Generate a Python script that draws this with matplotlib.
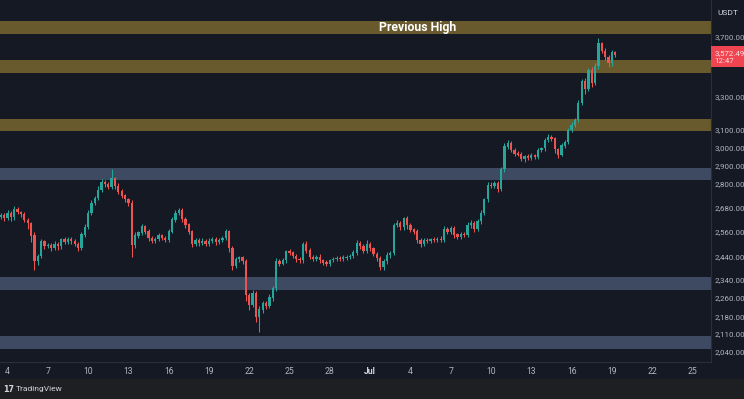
import numpy as np
import matplotlib.pyplot as plt
from matplotlib.patches import Rectangle
from matplotlib.ticker import NullLocator, NullFormatter

# ETH/USDT 6h candles, first candle opens Jun 3 12:00 (day 0 = Jun 4)
first_open = 2630
closes = [
    2640, 2625,                    # Jun 3 (2nd half)
    2650, 2630, 2672, 2655,        # Jun 4
    2645, 2615, 2600, 2540,        # Jun 5
    2420, 2445, 2512, 2490,        # Jun 6
    2495, 2480, 2500, 2490,        # Jun 7
    2521, 2510, 2525, 2515,        # Jun 8
    2500, 2483, 2545, 2580,        # Jun 9
    2652, 2700, 2728, 2770,        # Jun 10
    2812, 2800, 2786, 2830,        # Jun 11
    2790, 2760, 2740, 2720,        # Jun 12
    2700, 2497, 2540, 2555,        # Jun 13
    2584, 2560, 2530, 2515,        # Jun 14
    2525, 2540, 2530, 2521,        # Jun 15
    2560, 2618, 2650, 2667,        # Jun 16
    2620, 2594, 2560, 2500,        # Jun 17
    2520, 2505, 2515, 2500,        # Jun 18
    2515, 2525, 2510, 2520,        # Jun 19
    2530, 2560, 2480, 2400,        # Jun 20
    2430, 2437, 2420, 2270,        # Jun 21
    2230, 2280, 2180, 2210,        # Jun 22
    2235, 2225, 2260, 2300,        # Jun 23
    2420, 2410, 2425, 2465,        # Jun 24
    2460, 2445, 2430, 2425,        # Jun 25
    2500, 2470, 2440, 2430,        # Jun 26
    2440, 2425, 2415, 2410,        # Jun 27
    2425, 2430, 2435, 2432,        # Jun 28
    2438, 2440, 2445, 2460,        # Jun 29
    2505, 2490, 2470, 2500,        # Jun 30
    2480, 2455, 2435, 2395,        # Jul 1
    2420, 2450, 2458, 2590,        # Jul 2
    2600, 2580, 2625, 2590,        # Jul 3
    2570, 2560, 2520, 2500,        # Jul 4
    2520, 2515, 2522, 2518,        # Jul 5
    2525, 2520, 2570, 2560,        # Jul 6
    2575, 2545, 2535, 2548,        # Jul 7
    2545, 2590, 2600, 2575,        # Jul 8
    2610, 2650, 2720, 2795,        # Jul 9
    2790, 2805, 2775, 2880,        # Jul 10
    3005, 3025, 2985, 2965,        # Jul 11
    2960, 2935, 2950, 2940,        # Jul 12
    2955, 2945, 2985, 2995,        # Jul 13
    3040, 3060, 3050, 2990,        # Jul 14
    2960, 3010, 3030, 3100,        # Jul 15
    3130, 3160, 3260, 3400,        # Jul 16
    3350, 3470, 3390, 3500,        # Jul 17
    3650, 3600, 3560, 3520,        # Jul 18
    3590, 3572.49,                 # Jul 19
]
upper_wick = [
    10, 12,
    15, 10, 14, 8,   8, 12, 10, 6,   20, 10, 12, 10,  12, 10, 15, 8,
    10, 12, 8, 10,   8, 10, 12, 15,  12, 15, 10, 18,  15, 12, 10, 52,
    10, 15, 12, 10,  10, 15, 20, 10, 15, 10, 12, 8,   10, 12, 8, 10,
    12, 15, 18, 10,  10, 12, 8, 10,  10, 8, 12, 10,   12, 10, 8, 10,
    10, 15, 10, 12,  12, 10, 8, 10,  10, 15, 10, 15,  12, 10, 15, 10,
    15, 10, 12, 10,  12, 10, 8, 10,  12, 15, 10, 8,   10, 12, 8, 10,
    8, 10, 8, 10,    10, 8, 10, 12,  15, 10, 12, 20,
    10, 8, 10, 10,   10, 12, 8, 12,  15, 12, 8, 10,   10, 8, 12, 10,
    8, 10, 8, 10,    10, 12, 15, 10, 12, 10, 8, 10,   10, 15, 18, 10,
    12, 15, 10, 15,  15, 12, 10, 12, 20, 15, 12, 10,  15, 12, 10, 12,
    12, 10, 15, 10,  15, 18, 12, 10, 10, 15, 12, 15,  15, 12, 20, 15,
    20, 15, 25, 20,  36, 8, 20, 15,
    15, 10,
]
lower_wick = [
    8, 15,
    10, 20, 12, 10,  12, 10, 25, 30, 37, 15, 10, 12,  10, 12, 8, 15,
    12, 8, 10, 12,   10, 15, 8, 10,  8, 12, 10, 10,   10, 15, 12, 10,
    15, 12, 10, 12,  12, 55, 15, 10, 10, 12, 15, 10,  8, 10, 12, 10,
    10, 8, 12, 10,   12, 15, 10, 12, 10, 12, 8, 10,   8, 10, 12, 10,
    10, 12, 15, 17,  10, 12, 10, 25, 20, 10, 20, 63,  15, 12, 10, 12,
    12, 10, 8, 10,   10, 8, 12, 10,  10, 12, 10, 8,   8, 10, 12, 10,
    10, 8, 10, 8,    8, 10, 8, 10,   10, 12, 10, 10,
    12, 10, 15, 12,  15, 10, 12, 10, 10, 12, 10, 15,  12, 10, 15, 12,
    10, 8, 10, 8,    8, 10, 12, 10,  10, 15, 12, 10,  12, 10, 12, 15,
    10, 12, 10, 12,  12, 10, 15, 12, 15, 12, 10, 12,  10, 12, 15, 10,
    10, 12, 10, 12,  12, 10, 15, 20, 18, 10, 12, 10,  10, 12, 15, 12,
    30, 15, 25, 15,  20, 15, 20, 30,
    20, 15,
]

# support / resistance zones (low, high)
gold_zones = [(3718, 3808), (3451, 3536), (3094, 3165)]
blue_zones = [(2822, 2887), (2292, 2351), (2052, 2103)]

price_ticks = [3700, 3300, 3100, 3000, 2900, 2800, 2680, 2560, 2440,
               2340, 2260, 2180, 2110, 2040]
date_ticks = [0, 3, 6, 9, 12, 15, 18, 21, 24, 27, 30, 33, 36, 39, 42, 45, 48, 51]
date_labels = ["4", "7", "10", "13", "16", "19", "22", "25", "28", "Jul",
               "4", "7", "10", "13", "16", "19", "22", "25"]
last_time = "12:47"

BG = "#151924"
UP = "#26a69a"
DOWN = "#ef5350"
TXT = "#b2b5be"

plt.rcParams['font.family'] = ['Roboto', 'DejaVu Sans']

c = np.array(closes, dtype=float)
o = np.concatenate([[first_open], c[:-1]])
h = np.maximum(o, c) + np.array(upper_wick)
l = np.minimum(o, c) - np.array(lower_wick)
t = -0.5 + 0.25 * np.arange(len(c))
up = c >= o
col = np.where(up, UP, DOWN)

fig = plt.figure(figsize=(7.44, 3.99), dpi=100, facecolor=BG)
ax = fig.add_axes([0, 37 / 399, 711 / 744, 362 / 399])
ax.set_facecolor(BG)
ax.set_yscale('log')
ax.set_ylim(2002, 3962)
ax.set_xlim(-0.56, 52.38)

for lo, hi in gold_zones:
    ax.axhspan(lo, hi, color="#695a2d", lw=0, zorder=1)
for lo, hi in blue_zones:
    ax.axhspan(lo, hi, color="#3e4a62", lw=0, zorder=1)

ax.vlines(t, l, h, colors=col, lw=0.75, zorder=2)
ax.bar(t, np.abs(c - o) + 1.5, bottom=np.minimum(o, c), width=0.17,
       color=col, lw=0, zorder=3)

ax.text(30.5, np.sqrt(gold_zones[0][0] * gold_zones[0][1]), "Previous High",
        color="white", fontsize=8.8, weight="bold", ha="center", va="center",
        zorder=4)

# axes / ticks
ax.yaxis.tick_right()
ax.set_yticks(price_ticks)
ax.set_yticklabels([f"{v:,.2f}" for v in price_ticks])
ax.yaxis.set_minor_locator(NullLocator())
ax.yaxis.set_minor_formatter(NullFormatter())
ax.set_xticks(date_ticks)
ax.set_xticklabels(date_labels)
ax.tick_params(axis='y', length=0, pad=2.8, labelsize=5.7, labelcolor=TXT)
ax.tick_params(axis='x', length=0, pad=3.5, labelsize=6.2, labelcolor=TXT)
for lab in ax.get_xticklabels():
    if lab.get_text() == "Jul":
        lab.set_fontweight("bold")
        lab.set_color("#d1d4dc")
for s in ["top", "left"]:
    ax.spines[s].set_visible(False)
for s in ["right", "bottom"]:
    ax.spines[s].set_color("#2a2e39")
    ax.spines[s].set_linewidth(0.8)

# last price label
ax.annotate(f"{closes[-1]:,.2f}\n{last_time}", xy=(1, closes[-1]),
            xycoords=('axes fraction', 'data'), xytext=(2.6, 3.5),
            textcoords='offset points', ha='left', va='top', fontsize=5.7,
            color="#ffe0e0", linespacing=1.3, annotation_clip=False,
            bbox=dict(boxstyle="square,pad=0.45", fc="#f04450", ec="none"))

fig.text(717 / 744, 1 - 13 / 399, "USDT", fontsize=6, color="#d1d4dc",
         va="center", ha="left")

# footer
fig.add_artist(Rectangle((0, 0), 1, 20 / 399, transform=fig.transFigure,
                         color="#1e1f23", lw=0, zorder=0))
fig.text(3 / 744, 10 / 399, "17", fontsize=5.8, weight="heavy",
         color="#d1d4dc", va="center", ha="left", family="DejaVu Sans")
fig.text(16 / 744, 10 / 399, "TradingView", fontsize=6, color="#d1d4dc",
         va="center", ha="left")

fig.savefig("out.png", dpi=100, facecolor=BG)
